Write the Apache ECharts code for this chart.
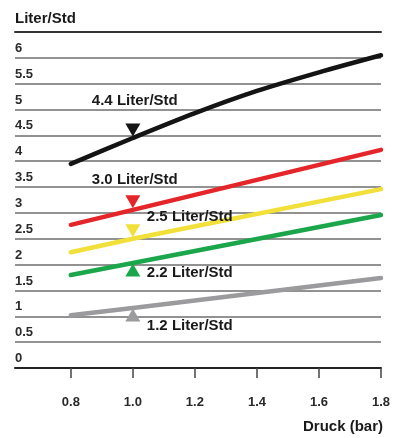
<!DOCTYPE html>
<html><head><meta charset="utf-8">
<script src="https://cdn.jsdelivr.net/npm/echarts@6/dist/echarts.min.js"></script>
<style>html,body{margin:0;padding:0;background:#fff}#c{width:404px;height:438px}</style>
</head><body><div id="c"></div>
<script>
// ---- data ----
const xTicks = [0.8, 1.0, 1.2, 1.4, 1.6, 1.8];
const seriesNames = ['4.4 Liter/Std', '3.0 Liter/Std', '2.5 Liter/Std', '2.2 Liter/Std', '1.2 Liter/Std'];
const blackX = [0.8, 1.0, 1.2, 1.4, 1.6, 1.8];
const blackY = [3.95, 4.45, 4.93, 5.36, 5.72, 6.05];
const redX = [0.8, 1.0, 1.8];
const redY = [2.77, 3.06, 4.22];
const yellowX = [0.8, 1.0, 1.8];
const yellowY = [2.24, 2.5, 3.46];
const greenX = [0.8, 1.0, 1.8];
const greenY = [1.8, 2.03, 2.96];
const grayX = [0.8, 1.0, 1.8];
const grayY = [1.02, 1.16, 1.74];
const markerX = 1.0;
const markerY = [4.45, 3.06, 2.5, 2.03, 1.16];
const markerDir = ['down', 'down', 'down', 'up', 'up'];

// ---- styles ----
const FONT = '"Liberation Sans", Arial, sans-serif';
const colors = ['#141414', '#e4262b', '#f2e03a', '#1ba64b', '#9b9b9d'];
const labelOffsets = [[-41, -37], [-41, -30], [14, -22], [14, 10], [14, 18]];

const lines = [[blackX, blackY], [redX, redY], [yellowX, yellowY], [greenX, greenY], [grayX, grayY]];
const series = [];
lines.forEach(([xs, ys], i) => {
  series.push({
    type: 'line', name: seriesNames[i], data: xs.map((x, j) => [x, ys[j]]),
    smooth: i === 0 ? 0.3 : false, showSymbol: false, silent: true,
    lineStyle: { color: colors[i], width: 4.5, cap: 'round', join: 'round' }, z: 3
  });
});
markerY.forEach((y, i) => {
  const down = markerDir[i] === 'down';
  series.push({
    type: 'scatter', data: [[markerX, y]], symbol: 'triangle',
    symbolSize: [15, 13], symbolRotate: down ? 180 : 0,
    symbolOffset: [0, down ? -8 : 7],
    itemStyle: { color: colors[i], opacity: 1 }, z: 4, silent: true
  });
  series.push({
    type: 'scatter', data: [[markerX, y]], symbolSize: 0, z: 5, silent: true,
    itemStyle: { opacity: 1 },
    label: { show: true, position: 'inside', align: 'left', verticalAlign: 'middle',
      offset: labelOffsets[i], formatter: seriesNames[i], opacity: 1,
      fontFamily: FONT, fontWeight: 'bold', fontSize: 15, color: '#1a1a1a' }
  });
});

const chart = echarts.init(document.getElementById('c'), null, { renderer: 'canvas' });
chart.setOption({
  animation: false,
  backgroundColor: '#fff',
  grid: { left: 15, right: 23, top: 32, bottom: 70, containLabel: false },
  xAxis: [{
    type: 'value', min: 0.62, max: 1.8,
    axisLine: { show: true, lineStyle: { color: '#222', width: 2 } },
    axisTick: { show: true, customValues: xTicks, length: 10, lineStyle: { color: '#444', width: 1.5 } },
    axisLabel: { customValues: xTicks, margin: 28, formatter: v => v.toFixed(1),
      fontFamily: FONT, fontWeight: 'bold', fontSize: 13, color: '#2a2a2a' },
    splitLine: { show: false }
  }, {
    type: 'value', position: 'top', min: 0.62, max: 1.8,
    axisLine: { show: true, lineStyle: { color: '#333', width: 2 } },
    axisTick: { show: false }, axisLabel: { show: false }, splitLine: { show: false }
  }],
  yAxis: {
    type: 'value', min: 0, max: 6.5, interval: 0.5,
    axisLine: { show: false }, axisTick: { show: false },
    axisLabel: { inside: true, margin: 0, align: 'left', verticalAlign: 'bottom', padding: [0, 0, 3, 0],
      formatter: v => (v >= 6.5 ? '' : String(v)),
      fontFamily: FONT, fontWeight: 'bold', fontSize: 13, color: '#2a2a2a' },
    splitLine: { show: true, lineStyle: { color: '#6e6e6e', width: 1.5 } }
  },
  graphic: [
    { type: 'text', left: 15, top: 11, style: { text: 'Liter/Std', fontFamily: FONT, fontWeight: 'bold', fontSize: 15, fill: '#1a1a1a' } },
    { type: 'text', right: 21, top: 419, style: { text: 'Druck (bar)', fontFamily: FONT, fontWeight: 'bold', fontSize: 15, fill: '#1a1a1a' } }
  ],
  series: series
});
</script>
</body></html>
